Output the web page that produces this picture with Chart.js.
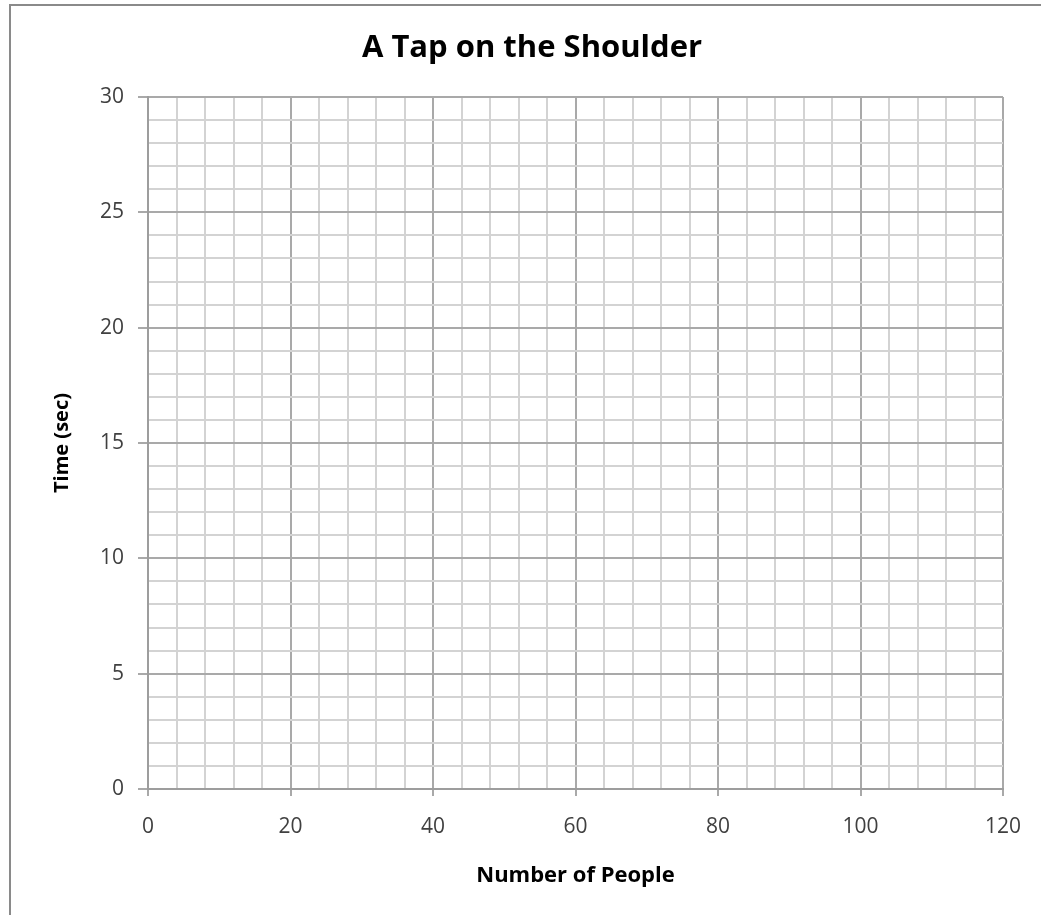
<!DOCTYPE html>
<html>
<head>
<meta charset="utf-8">
<script src="https://cdn.jsdelivr.net/npm/chart.js@4.4.1/dist/chart.umd.min.js"></script>
<style>
html,body{margin:0;padding:0;background:#fff;}
#wrap{position:relative;width:1041px;height:915px;overflow:hidden;}
#frame{position:absolute;left:9px;top:4px;width:1100px;height:1000px;border-left:2px solid #8a8a8a;border-top:2px solid #8a8a8a;pointer-events:none;box-sizing:border-box;}
</style>
</head>
<body>
<div id="wrap"><canvas id="c" width="1041" height="915"></canvas><div id="frame"></div></div>
<script>
// ---- data (the reference chart is an empty grid: no plotted series) ----
const chartTitle = 'A Tap on the Shoulder';
const xAxisTitle = 'Number of People';
const yAxisTitle = 'Time (sec)';
const xTickLabels = [0, 20, 40, 60, 80, 100, 120];
const yTickLabels = [0, 5, 10, 15, 20, 25, 30];
const xMinorStep = 4;
const yMinorStep = 1;
const seriesPoints = [];

const FONT = '"Open Sans", Lato, sans-serif';
const MAJOR = '#a9a9a9';
const MINOR = '#d3d3d3';
const isMajorX = v => xTickLabels.includes(Math.round(v * 1000) / 1000);
const isMajorY = v => yTickLabels.includes(Math.round(v * 1000) / 1000);

new Chart(document.getElementById('c'), {
  type: 'scatter',
  data: { datasets: [{ label: 'data', data: seriesPoints, showLine: false }] },
  options: {
    responsive: false,
    animation: false,
    devicePixelRatio: 1,
    layout: { padding: { left: 61, right: 38, top: 0, bottom: 0 } },
    plugins: {
      legend: { display: false },
      tooltip: { enabled: false },
      title: {
        display: true,
        text: chartTitle,
        color: '#000',
        font: { family: FONT, size: 31, weight: 'bold' },
        padding: { top: 29.4, bottom: 30.4 }
      }
    },
    scales: {
      x: {
        type: 'linear',
        min: xTickLabels[0],
        max: xTickLabels[xTickLabels.length - 1],
        afterFit: s => { s.height = 126; },
        ticks: {
          stepSize: xMinorStep,
          autoSkip: false,
          maxRotation: 0,
          padding: 18,
          color: '#404040',
          font: { family: FONT, size: 21 },
          callback: v => isMajorX(v) ? String(v) : ''
        },
        grid: {
          color: c => isMajorX(c.tick.value) ? MAJOR : MINOR,
          lineWidth: 2,
          tickLength: 7,
          tickColor: c => isMajorX(c.tick.value) ? MAJOR : 'rgba(0,0,0,0)',
          tickWidth: 2
        },
        border: { display: true, color: '#9d9d9d', width: 2 },
        title: {
          display: true,
          text: xAxisTitle,
          color: '#000',
          font: { family: FONT, size: 22, weight: 'bold' },
          padding: { top: 0, bottom: 26 }
        }
      },
      y: {
        type: 'linear',
        min: yTickLabels[0],
        max: yTickLabels[yTickLabels.length - 1],
        afterFit: s => { s.width = 87; },
        ticks: {
          stepSize: yMinorStep,
          autoSkip: false,
          padding: 14,
          color: '#404040',
          font: { family: FONT, size: 21 },
          callback: v => isMajorY(v) ? String(v) : ''
        },
        grid: {
          color: c => isMajorY(c.tick.value) ? MAJOR : MINOR,
          lineWidth: 2,
          tickLength: 10,
          tickColor: c => isMajorY(c.tick.value) ? MAJOR : 'rgba(0,0,0,0)',
          tickWidth: 2
        },
        border: { display: true, color: '#9d9d9d', width: 2 },
        title: {
          display: true,
          text: yAxisTitle,
          color: '#000',
          font: { family: FONT, size: 20, weight: 'bold' },
          padding: { top: -11, bottom: 0 }
        }
      }
    }
  }
});
</script>
</body>
</html>
